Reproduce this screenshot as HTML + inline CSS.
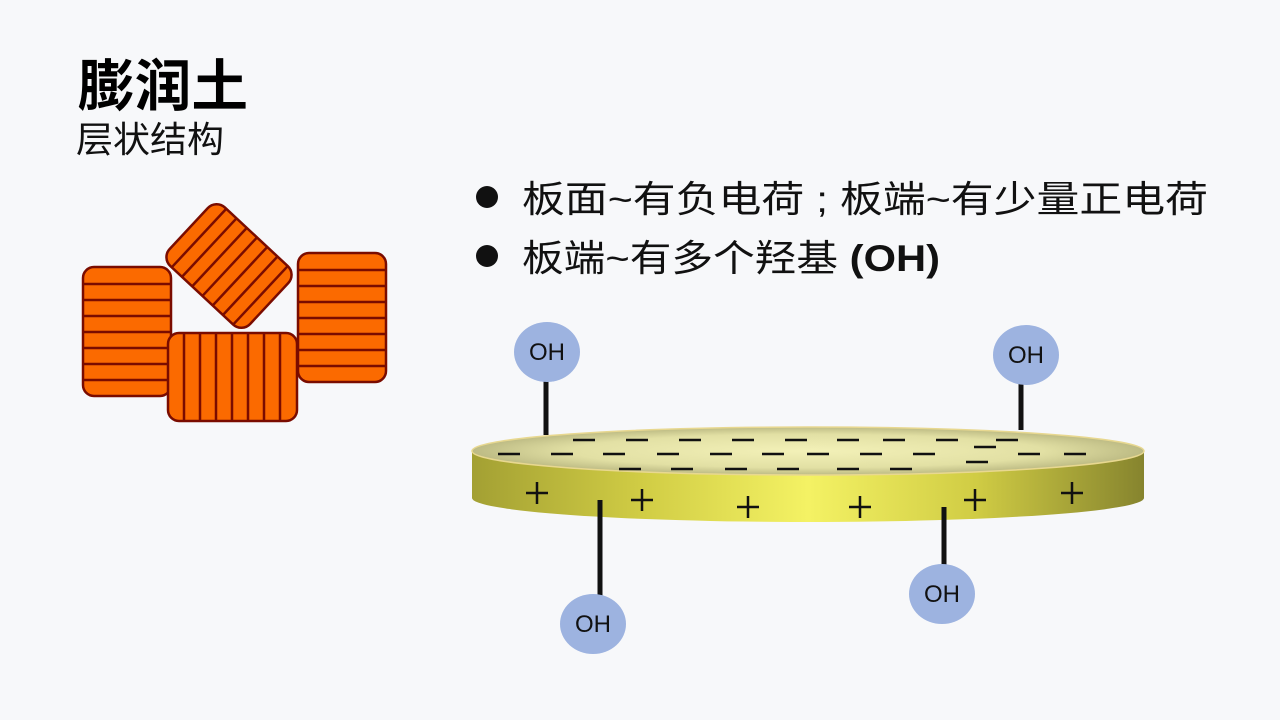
<!DOCTYPE html>
<html><head><meta charset="utf-8"><style>
html,body{margin:0;padding:0;background:#f7f8fa;}
svg{display:block;}
text{font-family:"Liberation Sans","Noto Sans CJK SC",sans-serif;}
</style></head><body>
<svg width="1280" height="720" viewBox="0 0 1280 720" xmlns="http://www.w3.org/2000/svg">
<defs>
<linearGradient id="side" x1="0" x2="1" y1="0" y2="0">
<stop offset="0" stop-color="#a3a033"/><stop offset="0.25" stop-color="#d0cc44"/>
<stop offset="0.5" stop-color="#f4f264"/><stop offset="0.75" stop-color="#d0cc44"/>
<stop offset="1" stop-color="#86842e"/></linearGradient>
<radialGradient id="top" cx="0.5" cy="0.5" r="0.5">
<stop offset="0" stop-color="#f3f1b8"/><stop offset="0.7" stop-color="#e2e0a4"/><stop offset="1" stop-color="#bdbb84"/></radialGradient>
</defs>
<rect width="1280" height="720" fill="#f7f8fa"/>
<text x="78" y="106" font-size="56" font-weight="bold" fill="#000" textLength="170" lengthAdjust="spacingAndGlyphs">膨润土</text>
<text x="76" y="152" font-size="36" fill="#111" textLength="148" lengthAdjust="spacingAndGlyphs">层状结构</text>

<circle cx="487" cy="197" r="11" fill="#111"/>
<circle cx="487" cy="256" r="11" fill="#111"/>
<text x="522" y="212" font-size="37" fill="#111" textLength="686" lengthAdjust="spacingAndGlyphs">板面~有负电荷 ; 板端~有少量正电荷</text>
<text x="522" y="271" font-size="37" fill="#111" textLength="418" lengthAdjust="spacingAndGlyphs">板端~有多个羟基 <tspan font-weight="bold">(OH)</tspan></text>

<!-- blocks -->
<g stroke="#7a0c00" stroke-width="2.5" fill="#fb6a00">
<g transform="translate(229,266) rotate(43)">
<rect x="-55" y="-40" width="110" height="80" rx="12"/>
<g stroke-width="2.5"><line x1="-41" y1="-40" x2="-41" y2="40"/><line x1="-27" y1="-40" x2="-27" y2="40"/><line x1="-13" y1="-40" x2="-13" y2="40"/><line x1="1" y1="-40" x2="1" y2="40"/><line x1="15" y1="-40" x2="15" y2="40"/><line x1="29" y1="-40" x2="29" y2="40"/><line x1="43" y1="-40" x2="43" y2="40"/></g>
</g>
<rect x="83" y="267" width="88" height="129" rx="11"/>
<g stroke-width="2.5"><line x1="83" y1="284" x2="171" y2="284"/><line x1="83" y1="300" x2="171" y2="300"/><line x1="83" y1="316" x2="171" y2="316"/><line x1="83" y1="332" x2="171" y2="332"/><line x1="83" y1="348" x2="171" y2="348"/><line x1="83" y1="364" x2="171" y2="364"/><line x1="83" y1="380" x2="171" y2="380"/></g>
<rect x="298" y="253" width="88" height="129" rx="11"/>
<g stroke-width="2.5"><line x1="298" y1="270" x2="386" y2="270"/><line x1="298" y1="286" x2="386" y2="286"/><line x1="298" y1="302" x2="386" y2="302"/><line x1="298" y1="318" x2="386" y2="318"/><line x1="298" y1="334" x2="386" y2="334"/><line x1="298" y1="350" x2="386" y2="350"/><line x1="298" y1="366" x2="386" y2="366"/></g>
<rect x="168" y="333" width="129" height="88" rx="11"/>
<g stroke-width="2.5"><line x1="184" y1="333" x2="184" y2="421"/><line x1="200" y1="333" x2="200" y2="421"/><line x1="216" y1="333" x2="216" y2="421"/><line x1="232" y1="333" x2="232" y2="421"/><line x1="248" y1="333" x2="248" y2="421"/><line x1="264" y1="333" x2="264" y2="421"/><line x1="280" y1="333" x2="280" y2="421"/></g>
</g>

<!-- disc -->
<path d="M472,452 L472,498 A336,24 0 0 0 1144,498 L1144,452 Z" fill="url(#side)"/>
<ellipse cx="808" cy="451" rx="336" ry="24" fill="url(#top)" stroke="#e8d890" stroke-width="1.5"/>

<g stroke="#111" stroke-width="5">
<line x1="546" y1="376" x2="546" y2="435"/>
<line x1="1021" y1="378" x2="1021" y2="430"/>
<line x1="600" y1="500" x2="600" y2="597"/>
<line x1="944" y1="507" x2="944" y2="570"/>
</g>
<g stroke="#111" stroke-width="2.5">
<path d="M573,440h22M626,440h22M679,440h22M732,440h22M785,440h22M837,440h22M883,440h22M936,440h22M996,440h22"/>
<path d="M498,454h22M551,454h22M603,454h22M657,454h22M710,454h22M762,454h22M807,454h22M860,454h22M913,454h22M1018,454h22M1064,454h22M974,447h22"/>
<path d="M619,469h22M671,469h22M725,469h22M777,469h22M837,469h22M890,469h22M966,462h22"/>
<path d="M526,493h22M537,482v22M631,500h22M642,489v22M737,507h22M748,496v22M849,507h22M860,496v22M964,500h22M975,489v22M1061,493h22M1072,482v22"/>
</g>

<g fill="#9db3e0">
<ellipse cx="547" cy="352" rx="33" ry="30"/>
<ellipse cx="1026" cy="355" rx="33" ry="30"/>
<ellipse cx="593" cy="624" rx="33" ry="30"/>
<ellipse cx="942" cy="594" rx="33" ry="30"/>
</g>
<g font-size="24" fill="#111" text-anchor="middle">
<text x="547" y="360">OH</text><text x="1026" y="363">OH</text>
<text x="593" y="632">OH</text><text x="942" y="602">OH</text>
</g>
</svg>
</body></html>
